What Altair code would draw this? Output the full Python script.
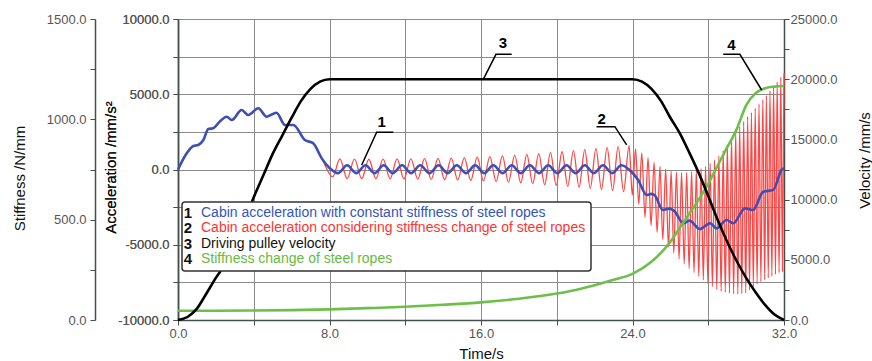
import altair as alt
import pandas as pd

# ---------------- data ----------------
# Cabin acceleration, constant rope stiffness (mm/s^2)
blue_t = [0, 0.46, 0.81, 1.07, 1.34, 1.6, 1.86, 2.2, 2.57, 2.84, 3.36, 3.71, 4.24, 4.68, 5.2, 5.65, 6.09,
          6.7, 7.14, 7.59, 8.0,
          8.45, 8.93, 9.41, 9.90, 10.38, 10.86, 11.34, 11.83, 12.31, 12.79, 13.28, 13.76, 14.24, 14.72,
          15.21, 15.69, 16.17, 16.65, 17.14, 17.62, 18.10, 18.58, 19.07, 19.55, 20.03, 20.51, 21.00,
          21.48, 21.96, 22.44, 22.93, 23.41,
          23.9, 24.3, 24.75, 25.0, 25.2, 25.6, 25.95, 26.2, 26.7, 27.0, 27.56, 28.1, 28.44, 28.97,
          29.32, 29.94, 30.37, 30.9, 31.43, 31.87, 32.0]
blue_a = [0, 1080, 1560, 1630, 1960, 2690, 2740, 3180, 3510, 3290, 3950, 3620, 4070, 3510, 3770, 2960, 2960,
          1960, 1740, 740, 100,
          -240, 280, -240, 280, -240, 280, -240, 280, -240, 280, -240, 280, -240, 280,
          -240, 280, -240, 280, -240, 280, -240, 280, -240, 280, -240, 280, -240,
          280, -240, 280, -240, 280,
          -100, -700, -1690, -1620, -1750, -2690, -2600, -2750, -3575, -3400, -3950, -3575, -3910, -3356,
          -3575, -2580, -2690, -1475, -1360, -30, 100]

# Cabin acceleration, variable rope stiffness (mm/s^2)
red_t = [0, 0.46, 0.81, 1.07, 1.34, 1.6, 1.86, 2.2, 2.57, 2.84, 3.36, 3.71, 4.24, 4.68, 5.2, 5.65, 6.09,
         6.7, 7.14, 7.59,
         8.17, 8.55, 8.93, 9.32, 9.70, 10.08, 10.45, 10.83, 11.20, 11.57, 11.93, 12.30, 12.66, 13.02,
         13.37, 13.73, 14.08, 14.43, 14.77, 15.12, 15.46, 15.80, 16.13, 16.47, 16.80, 17.13, 17.45,
         17.78, 18.10, 18.42, 18.73, 19.05, 19.36, 19.67, 19.97, 20.28, 20.58, 20.88, 21.18, 21.48,
         21.77, 22.07, 22.36, 22.66, 22.95, 23.24, 23.53, 23.82,
         23.99, 24.16, 24.33, 24.49, 24.66, 24.82, 24.98, 25.14, 25.30, 25.45, 25.60, 25.75, 25.90,
         26.04, 26.18, 26.32, 26.46, 26.59, 26.73, 26.86, 26.99, 27.12, 27.25, 27.37, 27.50, 27.62,
         27.74, 27.86, 27.98, 28.10, 28.22, 28.33, 28.45, 28.56, 28.68, 28.79, 28.90, 29.01, 29.12,
         29.23, 29.34, 29.45, 29.56, 29.66, 29.77, 29.87, 29.98, 30.08, 30.18, 30.28, 30.38, 30.48,
         30.58, 30.68, 30.78, 30.88, 30.98, 31.07, 31.17, 31.26, 31.36, 31.45, 31.55, 31.64, 31.74,
         31.83, 31.92, 32.0]
red_a = [0, 1080, 1560, 1630, 1960, 2690, 2740, 3180, 3510, 3290, 3950, 3620, 4070, 3510, 3770, 2960, 2960,
         1960, 1740, 740,
         -480, 700, -600, 690, -610, 680, -610, 690, -620, 700, -630, 710, -640, 720,
         -660, 740, -680, 760, -700, 790, -730, 820, -760, 860, -800, 900, -840,
         950, -890, 1000, -940, 1060, -1000, 1120, -1060, 1180, -1120, 1250, -1190, 1320,
         -1260, 1390, -1330, 1460, -1400, 1520, -1470, 1580,
         -1700, 1370, -2300, 1110, -3180, 780, -3730, 470, -4180, 200, -4660, 30, -5160,
         -110, -5550, -160, -5940, -200, -6280, -200, -6590, -150, -6850, -50, -7100, 70,
         -7340, 220, -7580, 400, -7780, 630, -7960, 900, -8100, 1260, -8160, 1620, -8220,
         2060, -8270, 2500, -8290, 2860, -8250, 3190, -8200, 3510, -8020, 3790, -7820, 4070,
         -7620, 4350, -7460, 4630, -7320, 4910, -7200, 5220, -7090, 5520, -6970, 5820, -6860,
         6130, -6760, 6400]

# Driving pulley velocity (mm/s)
vel_t = [0, 0.5, 1, 1.5, 2, 2.5, 3, 3.5, 4, 4.5, 5, 5.5, 6, 6.5, 7, 7.5, 8,
         24, 24.5, 25, 25.5, 26, 26.5, 27, 27.5, 28, 28.5, 29, 29.5, 30, 30.5, 31, 31.5, 32]
vel_v = [0, 250, 950, 2200, 3500, 4700, 6400, 8200, 10200, 12000, 13800, 15300, 16800, 18200, 19200, 19800, 20000,
         20000, 19800, 19200, 18200, 16800, 15500, 13900, 12200, 10300, 8300, 6500, 4900, 3500, 2300, 1250, 450, 0]

# Stiffness change of steel ropes (N/mm)
stiff_t = [0, 2, 4, 6, 8, 10, 12, 14, 16, 18, 20, 21, 22, 23, 24, 25, 26, 26.5, 27, 27.5, 28, 28.5,
           29, 29.5, 30, 30.5, 31, 31.5, 32]
stiff_k = [46, 46, 47, 49, 53, 59, 66, 76, 88, 106, 132, 150, 173, 200, 230, 290, 390, 460, 530, 600, 680, 770,
           860, 950, 1070, 1130, 1155, 1163, 1166]

# Callouts (number, label position, leader polyline) in time / acceleration units
callout_ids = ["1", "2", "3", "4"]
callout_text_t = [10.75, 22.37, 17.16, 29.23]
callout_text_a = [3176, 3335, 8386, 8273]
callout_line_t = [[9.70, 10.49, 11.37], [22.10, 23.07, 23.69], [16.12, 16.79, 17.62], [28.79, 29.67, 30.82]]
callout_line_a = [[299, 2472, 2472], [2845, 2845, 1630], [5994, 7655, 7655], [7655, 7655, 5283]]

legend_nums = ["1", "2", "3", "4"]
legend_labels = ["Cabin acceleration with constant stiffness of steel ropes",
                 "Cabin acceleration considering stiffness change of steel ropes",
                 "Driving pulley velocity",
                 "Stiffness change of steel ropes"]

# ---------------- styling ----------------
FONT = "Liberation Sans"
BLUE = "#3a4fb8"
RED = "#ff4646"
GREEN = "#6cc04a"
BLACK = "#000000"
legend_colors = ["#3355bb", "#ff3333", "#111111", "#66bb44"]
AXC = "#44504a"
GRID = "#8a8a8a"
LABC = "#555555"

W, H = 606, 301


def signed_fmt(step):
    return ("datum.value % " + str(step) + " == 0 ? ((datum.value < 0 ? '-' : '') + "
            "format(abs(datum.value), '.1f')) : ''")


x_axis = alt.Axis(values=list(range(0, 33, 4)), labelExpr=signed_fmt(8), grid=True, gridColor=GRID,
                  gridWidth=1, title="Time/s", titleFont=FONT, titleFontSize=15, titleFontWeight="normal",
                  titleColor="#111", titleX=W / 2, titleY=33, titleBaseline="middle", titleAlign="center",
                  labelFont=FONT, labelFontSize=13, labelColor=LABC, labelFlush=False, labelOverlap=False,
                  domainColor=AXC, tickColor=AXC, tickSize=5, labelPadding=2, domainWidth=1.5)

acc_axis = alt.Axis(values=list(range(-10000, 10001, 2500)), labelExpr=signed_fmt(5000), grid=True,
                    gridColor=GRID, gridWidth=1, orient="left", title="Acceleration /mm/s²",
                    titleFont=FONT, titleFontSize=15, titleFontWeight="normal", titleColor="#111",
                    titleX=-68, titleY=148, titleAngle=270, titleBaseline="middle", titleAlign="center",
                    labelFont=FONT, labelFontSize=13, labelColor=LABC, labelOverlap=False, labelFlush=False,
                    domainColor=AXC, tickColor=AXC, tickSize=5, labelPadding=4, domainWidth=1.5)

stiff_axis = alt.Axis(values=list(range(0, 1501, 250)), labelExpr=signed_fmt(500), grid=False,
                      orient="left", offset=83, title="Stiffness /N/mm",
                      titleFont=FONT, titleFontSize=15, titleFontWeight="normal", titleColor="#111",
                      titleX=-76, titleY=159, titleAngle=270, titleBaseline="middle", titleAlign="center",
                      labelFont=FONT, labelFontSize=13, labelColor=LABC, labelOverlap=False, labelFlush=False,
                      domainColor=AXC, tickColor=AXC, tickSize=5, labelPadding=4, domainWidth=1.5)

vel_axis = alt.Axis(values=list(range(0, 25001, 2500)), labelExpr=signed_fmt(5000), grid=False,
                    orient="right", title="Velocity /mm/s",
                    titleFont=FONT, titleFontSize=15, titleFontWeight="normal", titleColor="#111",
                    titleX=80, titleY=141, titleAngle=270, titleBaseline="middle", titleAlign="center",
                    labelFont=FONT, labelFontSize=13, labelColor=LABC, labelOverlap=False, labelFlush=False,
                    domainColor=AXC, tickColor=AXC, tickSize=5, labelPadding=1, domainWidth=1.5)

XS = alt.Scale(domain=[0, 32], nice=False, zero=False)
X = alt.X("t:Q", scale=XS, axis=x_axis)
YA = alt.Y("a:Q", scale=alt.Scale(domain=[-10000, 10000], nice=False, zero=False), axis=acc_axis)

# ---------------- tables ----------------
blue_df = pd.DataFrame({"t": blue_t, "a": blue_a})
red_df = pd.DataFrame({"t": red_t, "a": red_a})
vel_df = pd.DataFrame({"t": vel_t, "v": vel_v})
stiff_df = pd.DataFrame({"t": stiff_t, "k": stiff_k})

rows = []
for cid, ts, avs in zip(callout_ids, callout_line_t, callout_line_a):
    for i, (tt, aa) in enumerate(zip(ts, avs)):
        rows.append({"id": cid, "seq": i, "t": tt, "a": aa})
leader_df = pd.DataFrame(rows)
callout_df = pd.DataFrame({"id": callout_ids, "t": callout_text_t, "a": callout_text_a})

# ---------------- marks ----------------
red = alt.Chart(red_df).mark_line(color=RED, strokeWidth=1.3, interpolate="monotone").encode(
    x=X, y=YA, order="t:Q")
blue = alt.Chart(blue_df).mark_line(color=BLUE, strokeWidth=2.6, interpolate="monotone").encode(
    x=X, y=YA, order="t:Q")
leaders = alt.Chart(leader_df).mark_line(color=BLACK, strokeWidth=1.5).encode(
    x=X, y=YA, detail="id:N", order="seq:Q")
callouts = alt.Chart(callout_df).mark_text(font=FONT, fontSize=15, fontWeight="bold", color=BLACK,
                                           baseline="middle", align="center").encode(
    x=X, y=YA, text="id:N")

acc_layer = alt.layer(red, blue)

stiff = alt.Chart(stiff_df).mark_line(color=GREEN, strokeWidth=2.6, interpolate="monotone").encode(
    x=X,
    y=alt.Y("k:Q", scale=alt.Scale(domain=[0, 1500], nice=False, zero=False), axis=stiff_axis),
    order="t:Q")

vel = alt.Chart(vel_df).mark_line(color=BLACK, strokeWidth=2.6, interpolate="monotone").encode(
    x=X,
    y=alt.Y("v:Q", scale=alt.Scale(domain=[0, 25000], nice=False, zero=False), axis=vel_axis),
    order="t:Q")

ann_layer = alt.layer(leaders, callouts)

# legend box (positions in plot pixels)
dummy = alt.Data(values=[{}])
box = alt.Chart(dummy).mark_rect(fill="white", stroke="#333333", strokeWidth=1.5, cornerRadius=3).encode(
    x=alt.value(4), x2=alt.value(413), y=alt.value(183), y2=alt.value(252))
legend_parts = [box]
for i, (num, lab, col) in enumerate(zip(legend_nums, legend_labels, legend_colors)):
    yy = 194 + 15.3 * i
    legend_parts.append(alt.Chart(dummy).mark_text(text=num, font=FONT, fontSize=15, fontWeight="bold",
                                                   color="#111", align="center", baseline="middle").encode(
        x=alt.value(10), y=alt.value(yy)))
    legend_parts.append(alt.Chart(dummy).mark_text(text=lab, font=FONT, fontSize=14, color=col,
                                                   align="left", baseline="middle").encode(
        x=alt.value(23), y=alt.value(yy)))
legend_layer = alt.layer(*legend_parts)

chart = alt.layer(acc_layer, stiff, vel, ann_layer, legend_layer).resolve_scale(
    y="independent"
).properties(
    width=W, height=H,
    autosize=alt.AutoSizeParams(type="none"),
    padding={"left": 178, "top": 19, "right": 88, "bottom": 41},
    background="white",
).configure_view(stroke=GRID, strokeWidth=1)

chart.save("out.html", embed_options={"renderer": "svg", "actions": False})
